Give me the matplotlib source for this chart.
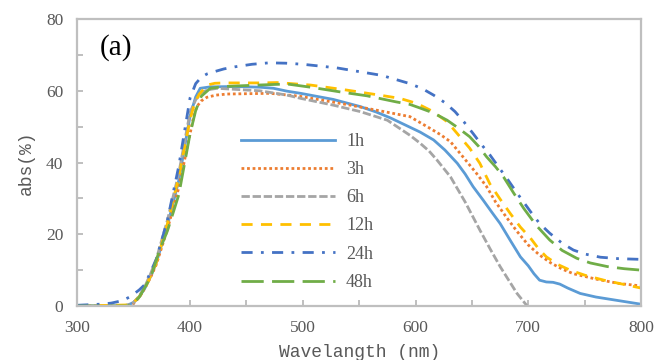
import numpy as np
import matplotlib.pyplot as plt
from matplotlib.ticker import MultipleLocator

wl_1h = [300, 340, 345, 350, 355, 360, 365, 370, 380, 390, 395, 400, 405, 409, 418, 440, 462, 474,
         486, 498, 527, 551, 565, 578, 590, 604, 616, 626, 637, 644, 651, 660, 668, 675, 684, 693,
         700, 705, 710, 716, 722, 728, 735, 746, 760, 776, 800]
abs_1h = [0, 0, 0.3, 1, 2.6, 5, 8.2, 12, 22.5, 35, 44, 53, 58.3, 60.7, 61.1, 61.2, 61, 60.7,
          59.9, 59.3, 57.6, 55.6, 54.1, 52.4, 50.6, 48.5, 46.3, 43.5, 39.8, 36.8, 33.3, 29.5, 26, 23,
          18.3, 13.7, 11.2, 9, 7.2, 6.7, 6.6, 6.1, 5, 3.5, 2.5, 1.7, 0.5]

wl_3h = [300, 345, 350, 355, 360, 365, 370, 380, 390, 400, 403, 406, 410, 415, 423, 433, 471, 497,
         542, 572, 595, 613, 622, 631, 642, 654, 663, 671, 680, 690, 700, 710, 720, 730, 740, 760,
         780, 800]
abs_3h = [0, 0, 0.8, 2.4, 5, 8, 11.5, 21.5, 33, 48, 52.5, 55.6, 57.2, 58.2, 58.8, 59.1, 59.3, 58.5,
          56, 54.2, 52.8, 49.5, 47.8, 45.8, 41.6, 37, 33.3, 29, 25, 20.8, 17, 14.2, 12, 10.3, 9, 7.5,
          6.3, 5.6]

wl_6h = [300, 340, 345, 350, 355, 360, 365, 370, 380, 390, 400, 405, 410, 416, 424, 462, 486, 498,
         527, 551, 575, 586, 595, 604, 612, 619, 631, 644, 657, 666, 675, 683, 690, 699]
abs_6h = [0, 0, 0.3, 1, 2.8, 5.5, 9, 13, 24, 37, 54, 57.5, 59.5, 60.3, 60.7, 60, 58.8, 57.9,
          56, 54.2, 51.8, 49.5, 47.6, 45.4, 43.2, 40.7, 36, 29, 21.2, 16, 11, 7, 3.5, 0]

wl_12h = [300, 345, 350, 355, 360, 365, 370, 380, 390, 400, 404, 408, 415, 422, 430, 462, 477, 507,
          539, 568, 586, 601, 615, 628, 638, 648, 657, 666, 675, 684, 693, 702, 709, 716, 726, 737,
          750, 767, 785, 800]
abs_12h = [0, 0.3, 1, 2.6, 5, 8.3, 12, 23, 36, 52, 56.5, 59, 61.6, 62.1, 62.2, 62.2, 62.3, 61.6,
           60.2, 58.8, 57.9, 56.5, 54.3, 51.4, 47.7, 44, 39.8, 34, 29.8, 25.8, 22, 18.9, 16, 13.7,
           11.6, 10, 8.6, 7.2, 6, 5]

wl_24h = [300, 320, 330, 340, 347, 355, 360, 370, 380, 390, 395, 400, 405, 410, 415, 420, 430, 440,
          455, 470, 485, 500, 530, 570, 595, 606, 616, 626, 635, 643, 651, 658, 666, 674, 681, 690,
          702, 710, 719, 730, 740, 750, 764, 780, 800]
abs_24h = [0.2, 0.5, 0.8, 1.5, 2.6, 4.5, 6, 13, 24, 39, 48.5, 58, 62, 63.8, 64.7, 65.2, 66.1, 66.7,
           67.4, 67.8, 67.7, 67.4, 66.4, 64.3, 62, 60.6, 58.8, 56.7, 54.2, 51.3, 48.1, 45.2, 42.1,
           38.6, 35.6, 31.5, 26.3, 23, 20.3, 17.5, 15.6, 14.5, 13.6, 13.2, 13]

wl_48h = [300, 345, 350, 355, 365, 373, 380, 390, 400, 405, 410, 418, 430, 460, 486, 507, 533, 557,
          583, 595, 604, 616, 628, 638, 648, 656, 663, 671, 678, 687, 696, 707, 719, 730, 743, 755,
          770, 785, 800]
abs_48h = [0, 0, 0.8, 2.5, 8, 15.6, 21, 31, 48, 54.5, 58.5, 60.7, 61.2, 61.6, 61.9, 61, 59.7, 58.6,
           56.9, 56.2, 55.2, 53.8, 51.8, 49.6, 47.2, 44.5, 41.6, 38.8, 36, 31.5, 27.2, 22.5, 18.4,
           15.5, 13.3, 12, 11, 10.4, 10]

labels = ['1h', '3h', '6h', '12h', '24h', '48h']
colors = ['#5B9BD5', '#ED7D31', '#A5A5A5', '#FFC000', '#4472C4', '#70AD47']
styles = ['-', (0, (1, 1)), (0, (3, 1)), (0, (4, 3)), (0, (4, 3, 1, 3)), (0, (8, 3))]

series = [(wl_1h, abs_1h), (wl_3h, abs_3h), (wl_6h, abs_6h),
          (wl_12h, abs_12h), (wl_24h, abs_24h), (wl_48h, abs_48h)]

fig = plt.figure(figsize=(6.54, 3.6), dpi=100)
ax = fig.add_axes([0.1182, 0.15, 0.862, 0.797])

for (x, y), lab, c, ls in zip(series, labels, colors, styles):
    ax.plot(x, y, color=c, ls=ls, lw=2, label=lab, solid_joinstyle='round')

ax.set_xlim(300, 800)
ax.set_ylim(0, 80)
ax.xaxis.set_major_locator(MultipleLocator(100))
ax.xaxis.set_minor_locator(MultipleLocator(50))
ax.yaxis.set_major_locator(MultipleLocator(20))
ax.yaxis.set_minor_locator(MultipleLocator(10))

gray = '#BFBFBF'
for s in ax.spines.values():
    s.set_color(gray)
    s.set_linewidth(1.6)
ax.tick_params(which='both', direction='in', color=gray, width=1.4, length=4,
               labelcolor='#595959', labelsize=12.5, pad=10)
for t in ax.get_xticklabels() + ax.get_yticklabels():
    t.set_family('Liberation Serif')

ax.set_xlabel('Wavelangth (nm)', family='Liberation Mono', fontsize=13, color='#595959', labelpad=6)
ax.set_ylabel('abs(%)', family='Liberation Mono', fontsize=13, color='#595959', labelpad=8)

ax.text(0.04, 0.9, '(a)', transform=ax.transAxes, family='Liberation Serif',
        fontsize=21, va='center', ha='left')

leg = ax.legend(loc='upper left', bbox_to_anchor=(0.262, 0.66), frameon=False,
                handlelength=5.2, labelspacing=0.62, handletextpad=0.6,
                prop={'family': 'Liberation Serif', 'size': 13})
for t in leg.get_texts():
    t.set_color('#595959')

fig.savefig('out.png', dpi=100)
